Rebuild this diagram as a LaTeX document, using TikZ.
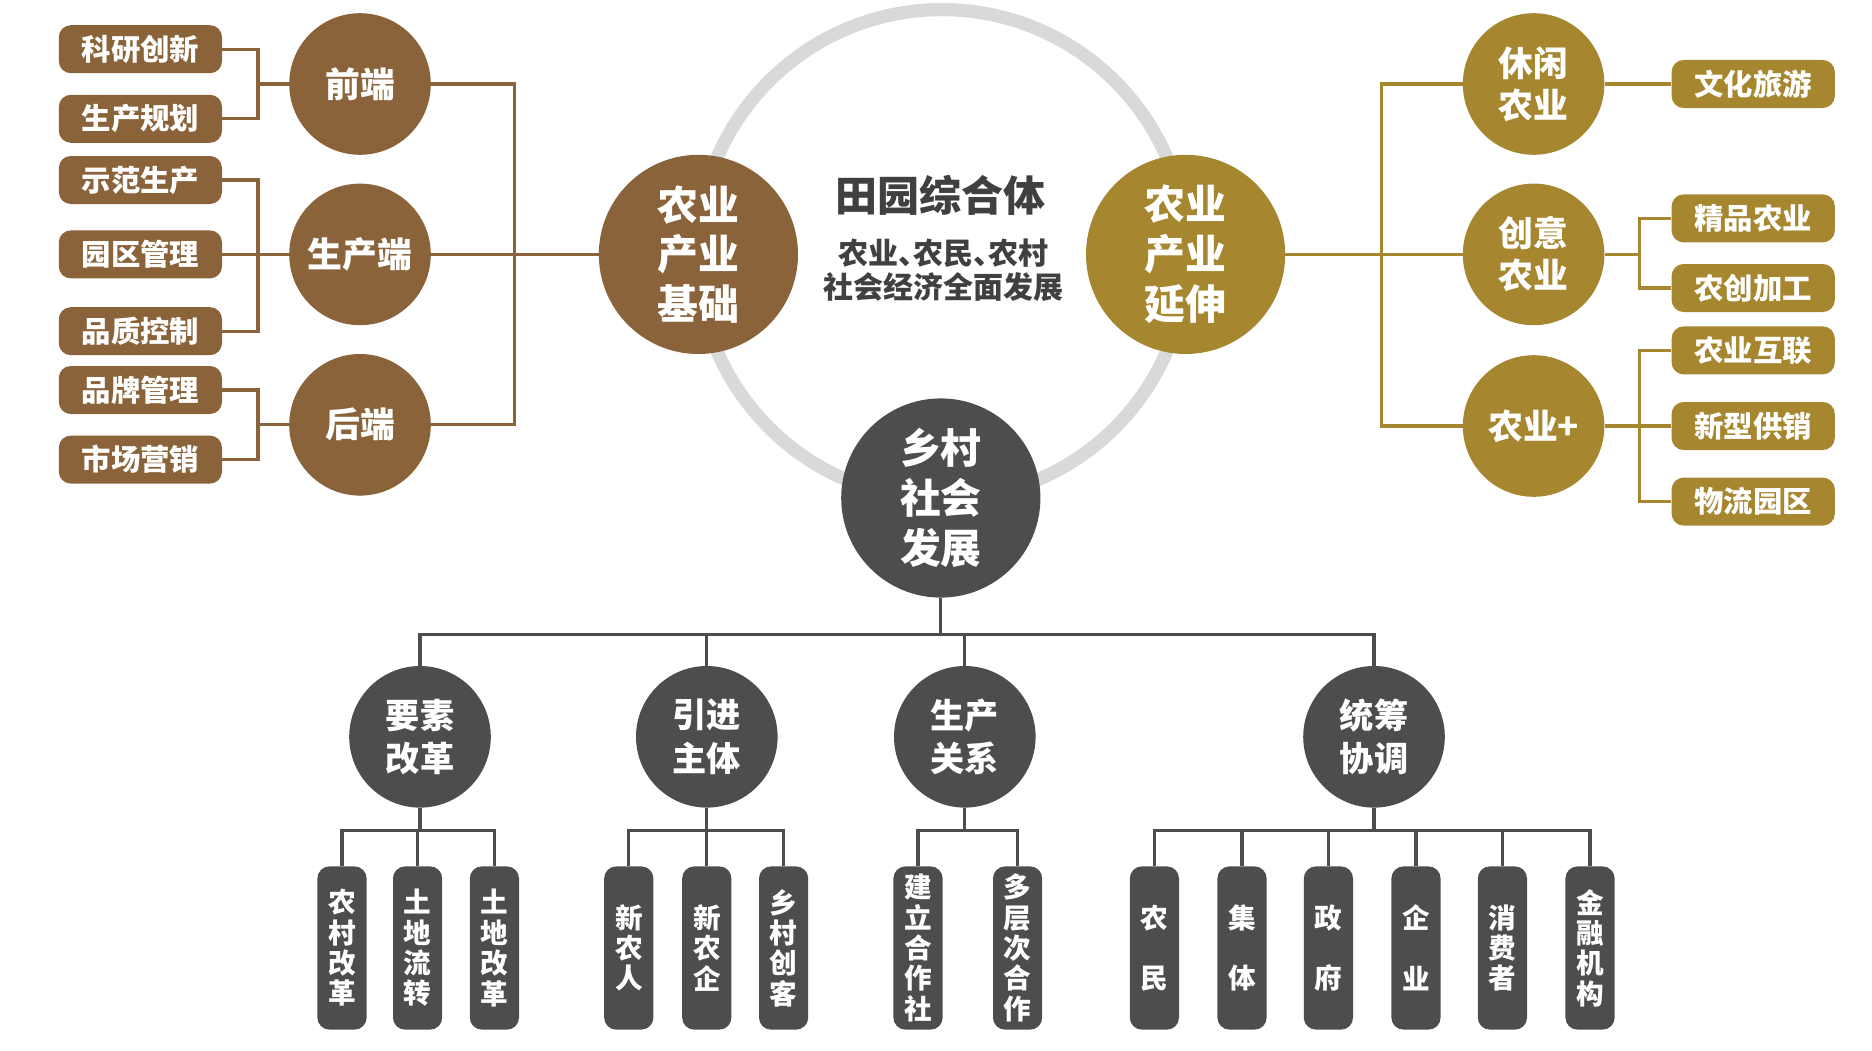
\documentclass[tikz,border=0pt]{standalone}
\usepackage{fontspec}
\setmainfont{Noto Sans CJK SC}
\definecolor{cbrown}{RGB}{139,99,58}
\definecolor{cgold}{RGB}{166,134,47}
\definecolor{cdark}{RGB}{77,77,77}
\definecolor{cring}{RGB}{217,217,217}
\definecolor{ctext}{RGB}{64,64,64}
\newcommand\hw[1]{\makebox[0.5em][l]{#1}}
\begin{document}
\begin{tikzpicture}[x=1pt,y=-1pt,
  every node/.style={inner sep=0pt, align=center, text=white},
  lbox/.style={rectangle, rounded corners=10pt, fill=cbrown, minimum width=136pt, minimum height=40pt, font=\bfseries\fontsize{24.5}{28}\selectfont},
  rbox/.style={lbox, fill=cgold},
  scirc/.style={circle, fill=cbrown, minimum size=118pt, font=\bfseries\fontsize{29}{35}\selectfont},
  ycirc/.style={scirc, fill=cgold},
  dcirc/.style={scirc, fill=cdark, font=\bfseries\fontsize{28.5}{36}\selectfont},
  bigcirc/.style={circle, minimum size=166pt, font=\bfseries\fontsize{34}{41.5}\selectfont},
  vbox/.style={rectangle, rounded corners=10pt, fill=cdark, minimum width=41pt, minimum height=136pt, font=\bfseries\fontsize{23}{25.3}\selectfont},
  bline/.style={draw=cbrown, line width=2.6pt},
  yline/.style={draw=cgold, line width=2.6pt},
  gline/.style={draw=cdark, line width=2.6pt},
]
\useasboundingbox (0,0) rectangle (1560,875);
% ring
\draw[cring, line width=11pt] (785,212) circle[radius=204pt];

% big circles
\node[bigcirc, fill=cbrown] (base) at (582,212) {农业\\产业\\基础};
\node[bigcirc, fill=cgold] (ext) at (988,212) {农业\\产业\\延伸};
\node[bigcirc, fill=cdark] (rural) at (784,415) {乡村\\社会\\发展};

% center text
\node[text=ctext, font=\bfseries\fontsize{35}{40}\selectfont] (title) at (784,163) {田园综合体};
\node[text=ctext, font=\bfseries\fontsize{25}{28.5}\selectfont] (sub) at (786,225) {农业\hw{、}农民\hw{、}农村\\社会经济全面发展};

% left circles
\node[scirc] (c1) at (300,70) {前端};
\node[scirc] (c2) at (300,212) {生产端};
\node[scirc] (c3) at (300,354) {后端};
% left boxes
\node[lbox] (b1) at (117,41) {科研创新};
\node[lbox] (b2) at (117,99) {生产规划};
\node[lbox] (b3) at (117,150) {示范生产};
\node[lbox] (b4) at (117,212) {园区管理};
\node[lbox] (b5) at (117,276) {品质控制};
\node[lbox] (b6) at (117,325) {品牌管理};
\node[lbox] (b7) at (117,383) {市场营销};
\coordinate (jL) at (215,0);
\coordinate (jL2) at (429,0);

% right circles
\node[ycirc] (r1) at (1278,70) {休闲\\农业};
\node[ycirc] (r2) at (1278,212) {创意\\农业};
\node[ycirc] (r3) at (1278,355) {农业+};
% right boxes
\node[rbox] (k1) at (1461,70) {文化旅游};
\node[rbox] (k2) at (1461,182) {精品农业};
\node[rbox] (k3) at (1461,240) {农创加工};
\node[rbox] (k4) at (1461,292) {农业互联};
\node[rbox] (k5) at (1461,355) {新型供销};
\node[rbox] (k6) at (1461,418) {物流园区};
\coordinate (jR) at (1151,0);
\coordinate (jR2) at (1366,0);

% left connectors
\draw[bline] (b1.east) -- (b1.east -| jL) -- (b2.east -| jL) -- (b2.east);
\draw[bline] (jL |- c1.west) -- (c1.west);
\draw[bline] (b3.east) -- (b3.east -| jL) -- (b5.east -| jL) -- (b5.east);
\draw[bline] (b4.east) -- (c2.west);
\draw[bline] (b6.east) -- (b6.east -| jL) -- (b7.east -| jL) -- (b7.east);
\draw[bline] (jL |- c3.west) -- (c3.west);
\draw[bline] (c1.east) -- (c1.east -| jL2) -- (c3.east -| jL2) -- (c3.east);
\draw[bline] (c2.east) -- (base.west);

% right connectors
\draw[yline] (ext.east) -- (r2.west);
\draw[yline] (r1.west) -- (r1.west -| jR) -- (r3.west -| jR) -- (r3.west);
\draw[yline] (r1.east) -- (k1.west);
\draw[yline] (k2.west) -- (k2.west -| jR2) -- (k3.west -| jR2) -- (k3.west);
\draw[yline] (r2.east) -- (jR2 |- r2.east);
\draw[yline] (k4.west) -- (k4.west -| jR2) -- (k6.west -| jR2) -- (k6.west);
\draw[yline] (r3.east) -- (k5.west);

% bottom circles
\node[dcirc] (g1) at (350,614) {要素\\改革};
\node[dcirc] (g2) at (589,614) {引进\\主体};
\node[dcirc] (g3) at (804,614) {生产\\关系};
\node[dcirc] (g4) at (1145,614) {统筹\\协调};
\coordinate (bar) at (0,529);
\coordinate (sb) at (0,692);

% bottom boxes
\node[vbox] (a1) at (285,790) {农\\村\\改\\革};
\node[vbox] (a2) at (348,790) {土\\地\\流\\转};
\node[vbox] (a3) at (412,790) {土\\地\\改\\革};
\node[vbox] (e1) at (524,790) {新\\农\\人};
\node[vbox] (e2) at (589,790) {新\\农\\企};
\node[vbox] (e3) at (653,790) {乡\\村\\创\\客};
\node[vbox] (p1) at (765,790) {建\\立\\合\\作\\社};
\node[vbox] (p2) at (848,790) {多\\层\\次\\合\\作};
\node[vbox] (t1) at (962,790) {农\\[25.3pt]民};
\node[vbox] (t2) at (1035,790) {集\\[25.3pt]体};
\node[vbox] (t3) at (1107,790) {政\\[25.3pt]府};
\node[vbox] (t4) at (1180,790) {企\\[25.3pt]业};
\node[vbox] (t5) at (1252,790) {消\\费\\者};
\node[vbox] (t6) at (1325,790) {金\\融\\机\\构};

% bottom connectors
\draw[gline] (rural.south) -- (rural.south |- bar);
\draw[gline] (g1.north) -- (g1.north |- bar) -- (g4.north |- bar) -- (g4.north);
\draw[gline] (g2.north) -- (g2.north |- bar);
\draw[gline] (g3.north) -- (g3.north |- bar);

\draw[gline] (a1.north) -- (a1.north |- sb) -- (a3.north |- sb) -- (a3.north);
\draw[gline] (g1.south) -- (g1.south |- sb);
\draw[gline] (a2.north) -- (a2.north |- sb);

\draw[gline] (e1.north) -- (e1.north |- sb) -- (e3.north |- sb) -- (e3.north);
\draw[gline] (g2.south) -- (g2.south |- sb);
\draw[gline] (e2.north) -- (e2.north |- sb);

\draw[gline] (p1.north) -- (p1.north |- sb) -- (p2.north |- sb) -- (p2.north);
\draw[gline] (g3.south) -- (g3.south |- sb);

\draw[gline] (t1.north) -- (t1.north |- sb) -- (t6.north |- sb) -- (t6.north);
\draw[gline] (g4.south) -- (g4.south |- sb);
\draw[gline] (t2.north) -- (t2.north |- sb);
\draw[gline] (t3.north) -- (t3.north |- sb);
\draw[gline] (t4.north) -- (t4.north |- sb);
\draw[gline] (t5.north) -- (t5.north |- sb);
\end{tikzpicture}
\end{document}
